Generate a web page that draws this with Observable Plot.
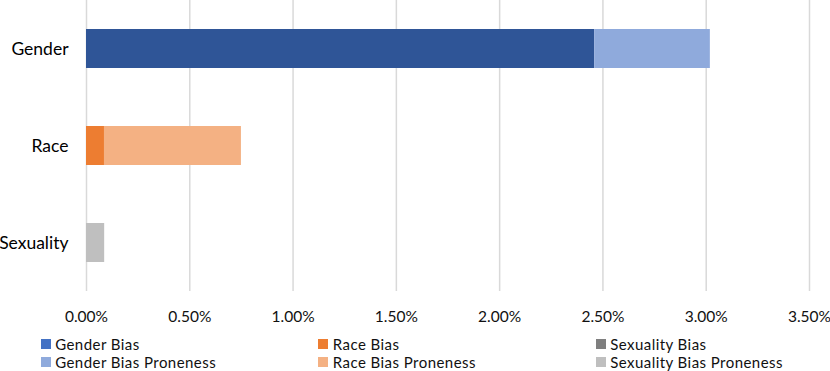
<!DOCTYPE html>
<html>
<head>
<meta charset="utf-8">
<script src="https://cdn.jsdelivr.net/npm/d3@7"></script>
<script src="https://cdn.jsdelivr.net/npm/@observablehq/plot@0.6"></script>
<style>
  html, body { margin: 0; padding: 0; background: #fff; }
  body { width: 830px; height: 371px; overflow: hidden; font-family: Lato, sans-serif; }
  #chart svg { display: block; }
  #legend { position: relative; height: 41px; font-size: 15px; line-height: 18px; color: #111; letter-spacing: 0.45px; }
  .item { position: absolute; display: flex; align-items: center; height: 18px; white-space: nowrap; }
  .sw { width: 10px; height: 10px; margin-right: 4.5px; flex: none; }
</style>
</head>
<body>
<div id="chart"></div>
<div id="legend"></div>
<script>
// Data (values in percent)
const categories = ["Gender", "Race", "Sexuality"];
const biasValues = [2.46, 0.087, 0.0];
const pronenessValues = [0.56, 0.663, 0.088];
const biasSeries = ["Gender Bias", "Race Bias", "Sexuality Bias"];
const pronenessSeries = ["Gender Bias Proneness", "Race Bias Proneness", "Sexuality Bias Proneness"];
const seriesOrder = ["Gender Bias", "Gender Bias Proneness", "Race Bias", "Race Bias Proneness", "Sexuality Bias", "Sexuality Bias Proneness"];
const barColors = ["#2F5597", "#8FAADC", "#ED7D31", "#F4B183", "#7F7F7F", "#BFBFBF"];
const legendColors = ["#4472C4", "#8FAADC", "#ED7D31", "#F4B183", "#7F7F7F", "#BFBFBF"];
const xTicks = [0, 0.5, 1.0, 1.5, 2.0, 2.5, 3.0, 3.5];

const rows = [];
categories.forEach((c, i) => {
  rows.push({category: c, series: biasSeries[i], value: biasValues[i]});
  rows.push({category: c, series: pronenessSeries[i], value: pronenessValues[i]});
});

const plot = Plot.plot({
  width: 830,
  height: 330,
  marginLeft: 86,
  marginRight: 21,
  marginTop: 0,
  marginBottom: 39,
  style: {fontFamily: "Lato, sans-serif", color: "#111", background: "#fff", overflow: "visible"},
  x: {domain: [0, 3.5], ticks: xTicks},
  y: {domain: categories, paddingInner: 0.6, paddingOuter: 0.3},
  color: {domain: seriesOrder, range: barColors},
  marks: [
    Plot.gridX(xTicks, {stroke: "#D9D9D9", strokeOpacity: 1, strokeWidth: 1.5}),
    Plot.barX(rows, Plot.stackX({y: "category", x: "value", fill: "series", order: seriesOrder})),
    Plot.axisX({ticks: xTicks, tickSize: 0, tickPadding: 19, fontSize: 15.5, label: null,
                tickFormat: d => d.toFixed(2) + "%", fill: "#111"}),
    Plot.axisY({tickSize: 0, tickPadding: 18, fontSize: 17.5, label: null, fill: "#000"})
  ]
});
document.getElementById("chart").appendChild(plot);

// Legend
const legend = document.getElementById("legend");
const colLeft = [40.7, 318.3, 595.7];
const rowTop = [5, 23.2];
const legendLayout = [
  ["Gender Bias", 0, 0], ["Race Bias", 1, 0], ["Sexuality Bias", 2, 0],
  ["Gender Bias Proneness", 0, 1], ["Race Bias Proneness", 1, 1], ["Sexuality Bias Proneness", 2, 1]
];
legendLayout.forEach(([name, col, row]) => {
  const it = document.createElement("div");
  it.className = "item";
  it.style.left = colLeft[col] + "px";
  it.style.top = rowTop[row] + "px";
  const sw = document.createElement("span");
  sw.className = "sw";
  sw.style.background = legendColors[seriesOrder.indexOf(name)];
  const tx = document.createElement("span");
  tx.textContent = name;
  it.appendChild(sw);
  it.appendChild(tx);
  legend.appendChild(it);
});
</script>
</body>
</html>
